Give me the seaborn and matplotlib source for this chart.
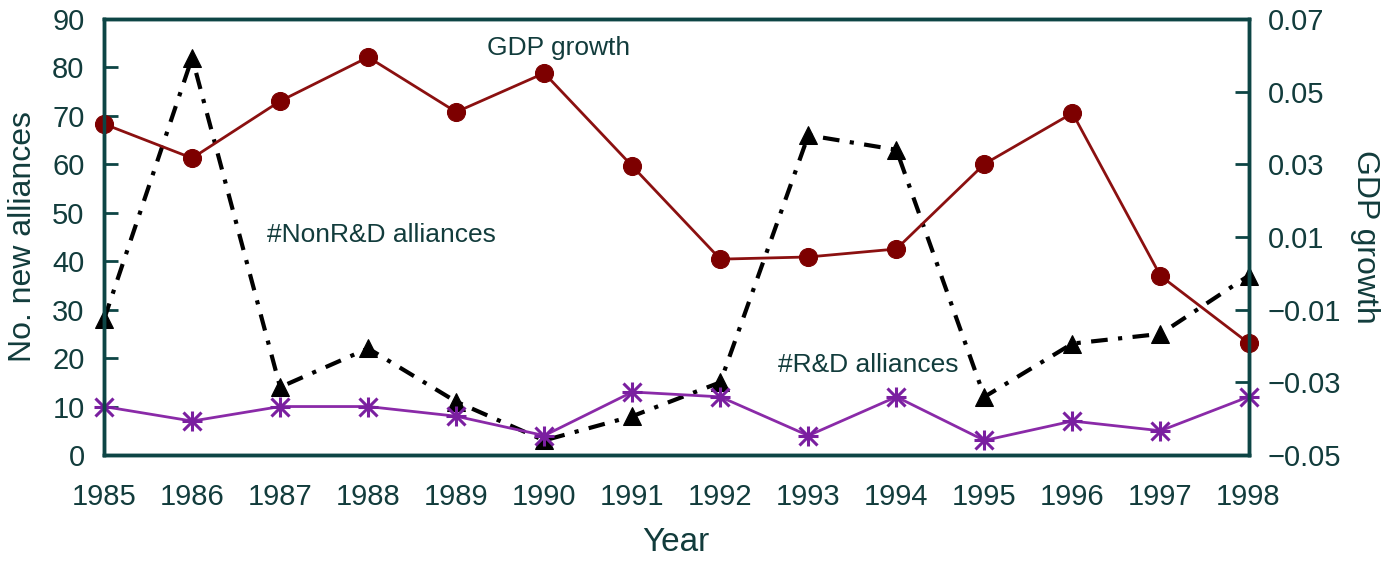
import numpy as np
import pandas as pd
import matplotlib
matplotlib.use("Agg")
import matplotlib.pyplot as plt
import seaborn as sns

# data
years = [1985, 1986, 1987, 1988, 1989, 1990, 1991, 1992, 1993, 1994, 1995, 1996, 1997, 1998]
non_rd = [28, 82, 14, 22, 11, 3, 8, 15, 66, 63, 12, 23, 25, 37]
rd = [10, 7, 10, 10, 8, 4, 13, 12, 4, 12, 3, 7, 5, 12]
gdp = [0.0411, 0.0317, 0.0474, 0.0595, 0.0444, 0.0551, 0.0295, 0.0039,
       0.0045, 0.0067, 0.0301, 0.0441, -0.0007, -0.0192]

left_ticks = [0, 10, 20, 30, 40, 50, 60, 70, 80, 90]
right_ticks = [-0.05, -0.03, -0.01, 0.01, 0.03, 0.05, 0.07]

df = pd.DataFrame({"Year": years, "NonRD": non_rd, "RD": rd, "GDP": gdp})

sns.set_style("white")
plt.rcParams["font.family"] = ["Liberation Sans", "DejaVu Sans"]

ink = "#123c3c"
spine_col = "#0d4545"
purple = "#7a1fa0"

fig = plt.figure(figsize=(13.95, 5.64), dpi=100)
ax = fig.add_axes([0.0746, 0.1933, 0.8204, 0.773])
ax2 = ax.twinx()

sns.lineplot(data=df, x="Year", y="NonRD", ax=ax, color="black", linewidth=3,
             marker="^", markersize=13, markeredgecolor="black",
             dashes=False, clip_on=False)
ax.lines[-1].set_dashes([4, 2.5, 1, 2.5])

sns.lineplot(data=df, x="Year", y="RD", ax=ax, color="#8a2aa8", linewidth=2,
             marker="x", markersize=13, markeredgewidth=2.2,
             markeredgecolor=purple, clip_on=False)
sns.lineplot(data=df, x="Year", y="RD", ax=ax, color=purple, linewidth=0,
             marker="+", markersize=15, markeredgewidth=2.2,
             markeredgecolor=purple, clip_on=False)

sns.lineplot(data=df, x="Year", y="GDP", ax=ax2, color="#8b1010", linewidth=2,
             marker="o", markersize=13, markerfacecolor="#7d0000",
             markeredgecolor="#7d0000", clip_on=False)

ax.set_xlim(1985, 1998)
ax.set_ylim(0, 90)
ax2.set_ylim(-0.05, 0.07)
ax.set_xticks(years)
ax.set_xticklabels([str(y) for y in years])
ax.set_yticks(left_ticks)
ax2.set_yticks(right_ticks)
ax2.set_yticklabels([f"{t:.2f}".replace("-", "\u2212") for t in right_ticks])

for a in (ax, ax2):
    for s in a.spines.values():
        s.set_color(spine_col)
        s.set_linewidth(2.5)
    a.tick_params(direction="in", length=10, width=2, color=spine_col,
                  labelsize=21, labelcolor=ink)
ax.tick_params(axis="x", pad=20)
ax.tick_params(axis="y", pad=14)
ax2.tick_params(axis="y", pad=14, left=False, right=True)

ax.set_xlabel("Year", fontsize=24, color=ink, labelpad=12)
ax.set_ylabel("No. new alliances", fontsize=23, color=ink, labelpad=10)
ax2.set_ylabel("GDP growth", fontsize=23, color=ink, rotation=270, labelpad=28)

ax.text(1989.35, 84.0, "GDP growth", fontsize=19, color=ink, va="center")
ax.text(1986.85, 45.5, "#NonR&D alliances", fontsize=19, color=ink, va="center")
ax.text(1992.65, 18.5, "#R&D alliances", fontsize=19, color=ink, va="center")

fig.savefig("out.png", dpi=100)
